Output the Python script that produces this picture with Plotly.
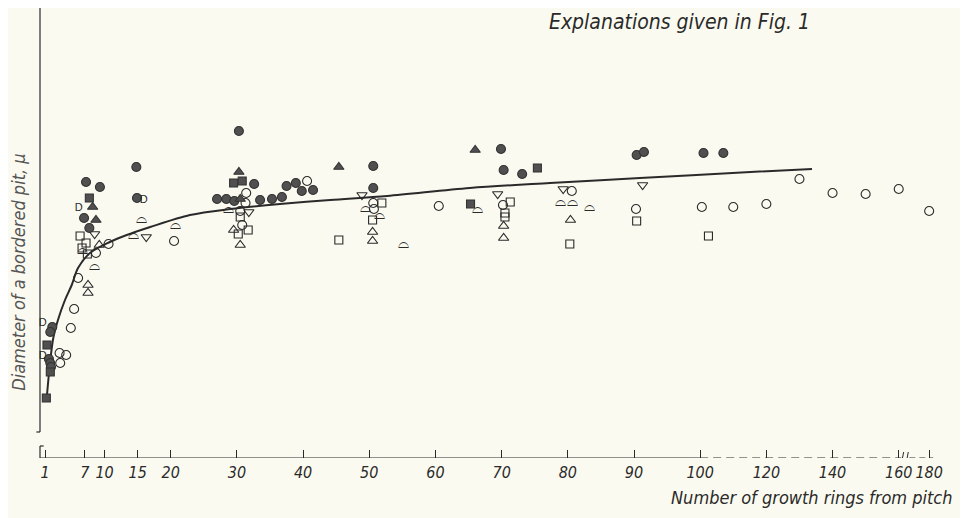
import plotly.graph_objects as go

# ---------------- data (ring number from pith, relative pit diameter) ----------------
tick_rings = [1, 7, 10, 15, 20, 30, 40, 50, 60, 70, 80, 90, 100, 120, 140, 160, 180]
tick_labels = [str(t) for t in tick_rings]

curve_ring = [1.26, 1.76, 2.25, 2.96, 4.02, 5.04, 5.99, 7.8, 10.8, 13.35, 16.9, 22.9, 29.0,
              36.5, 44.1, 52.7, 65.2, 77.3, 90.9, 115.2, 133.8]
curve_diam = [6.0, 9.5, 12.0, 13.8, 15.8, 17.3, 19.0, 20.5, 21.6, 22.3, 23.1, 24.3, 24.9,
              25.4, 25.8, 26.2, 27.0, 27.5, 28.0, 28.6, 28.9]

fc_ring = [2.1, 1.8, 1.6, 1.8, 1.9, 7.2, 9.3, 6.9, 7.7, 14.8, 14.9, 30.3, 32.6, 27.0, 28.4,
           29.6, 33.5, 35.3, 36.8, 37.5, 38.9, 39.8, 41.5, 50.6, 50.6, 69.9, 70.3, 73.1,
           90.4, 91.5, 101, 107]
fc_diam = [13.1, 12.6, 9.9, 9.5, 9.1, 27.6, 27.1, 24.0, 23.0, 29.1, 26.0, 32.7, 27.4, 25.9,
           25.9, 25.7, 25.8, 25.9, 26.1, 27.2, 27.5, 26.7, 26.8, 29.2, 27.0, 30.9, 28.8,
           28.4, 30.3, 30.6, 30.5, 30.5]

oc_ring = [4.9, 5.4, 6.0, 3.2, 4.2, 3.3, 10.6, 8.7, 20.5, 31.4, 31.3, 40.6, 30.5, 30.8,
           50.6, 50.7, 60.5, 70.2, 80.6, 90.3, 100.5, 110, 120, 130, 140, 150, 160, 180]
oc_diam = [13.0, 14.9, 18.0, 10.5, 10.3, 9.5, 21.4, 20.5, 21.7, 26.5, 25.5, 27.7, 24.7,
           23.3, 25.5, 24.9, 25.2, 25.3, 26.7, 24.9, 25.1, 25.1, 25.4, 27.9, 26.5, 26.4,
           26.9, 24.7]

os_ring = [6.3, 7.2, 6.6, 7.4, 30.5, 31.7, 30.2, 51.9, 50.5, 45.4, 71.3, 70.5, 70.5, 80.3,
           90.4, 102.5]
os_diam = [22.2, 21.5, 21.0, 20.4, 24.1, 22.8, 22.4, 25.5, 23.8, 21.8, 25.6, 24.5, 24.1,
           21.4, 23.7, 22.2]

fs_ring = [1.3, 1.8, 1.2, 7.7, 29.5, 30.8, 65.3, 75.4]
fs_diam = [11.3, 8.6, 6.0, 26.0, 27.5, 27.7, 25.4, 29.0]

ft_ring = [8.2, 8.7, 30.3, 30.5, 45.4, 66.0]
ft_diam = [25.1, 23.8, 28.6, 25.9, 29.1, 30.8]

ot_ring = [7.5, 7.5, 9.2, 29.5, 30.5, 50.5, 50.5, 70.3, 70.3, 80.4]
ot_diam = [17.3, 16.5, 21.3, 22.8, 21.3, 22.6, 21.7, 23.2, 22.0, 23.8]

it_ring = [8.5, 16.3, 31.8, 48.9, 69.4, 79.3, 91.3]
it_diam = [22.4, 22.1, 24.6, 26.3, 26.4, 26.9, 27.3]

bowl_ring = [6.6, 8.5, 15.6, 14.4, 20.7, 28.8, 49.5, 51.6, 55.1, 66.3, 78.9, 80.7, 83.3]
bowl_diam = [20.8, 19.2, 23.9, 22.3, 23.3, 24.9, 25.0, 24.3, 21.4, 24.9, 25.6, 25.6, 25.1]

d_ring = [0.65, 0.65, 6.1, 15.9]
d_diam = [13.5, 10.2, 25.0, 25.8]


# ---------------- broken ring scale: linear to 100, half scale to 160, compressed after ----
def to_u(r):
    if r <= 100:
        return r
    if r <= 160:
        return 100 + (r - 100) / 2.0
    return 130 + (r - 160) * 0.23


def U(lst):
    return [to_u(r) for r in lst]


INK = "#2a2a2a"
FILL = "#505050"
BG = "#fbfaf0"
FONT = "Liberation Sans Narrow, DejaVu Sans Condensed, Liberation Sans, Arial, sans-serif"

fig = go.Figure()

fig.add_trace(go.Scatter(x=U(curve_ring), y=curve_diam, mode="lines",
                         line=dict(color=INK, width=2, shape="spline", smoothing=0.9),
                         hoverinfo="skip"))


def add_markers(rings, diams, symbol, size, filled):
    fig.add_trace(go.Scatter(
        x=U(rings), y=diams, mode="markers", cliponaxis=False,
        marker=dict(symbol=symbol, size=size,
                    color=FILL if filled else INK,
                    line=dict(color="#333333" if filled else INK, width=1.1))))


add_markers(oc_ring, oc_diam, "circle-open", 9, False)
add_markers(os_ring, os_diam, "square-open", 8, False)
add_markers(ot_ring, ot_diam, "triangle-up-open", 9, False)
add_markers(it_ring, it_diam, "triangle-down-open", 9, False)
add_markers(fc_ring, fc_diam, "circle", 9, True)
add_markers(fs_ring, fs_diam, "square", 8, True)
add_markers(ft_ring, ft_diam, "triangle-up", 9, True)

fig.add_trace(go.Scatter(x=U(bowl_ring), y=bowl_diam, mode="text", cliponaxis=False,
                         text=["⌓"] * len(bowl_ring), textposition="middle center",
                         textfont=dict(family="DejaVu Sans", size=14, color=INK)))
fig.add_trace(go.Scatter(x=U(d_ring), y=d_diam, mode="text", cliponaxis=False,
                         text=["D"] * len(d_ring), textposition="middle center",
                         textfont=dict(family="Liberation Sans, sans-serif", size=11, color=INK)))

# ---------------- axes (drawn as lines with breaks) ----------------
YMAX = 45.0
line_style = dict(color=INK, width=1.2)
# y axis, with break near the bottom
fig.add_shape(type="line", xref="paper", yref="y", x0=0, x1=0, y0=2.6, y1=YMAX, line=line_style)
fig.add_shape(type="line", xref="paper", yref="y", x0=0, x1=-0.004, y0=2.6, y1=2.6, line=line_style)
fig.add_shape(type="line", xref="paper", yref="y", x0=0, x1=0, y0=0, y1=1.2, line=line_style)
fig.add_shape(type="line", xref="paper", yref="y", x0=0, x1=0.004, y0=1.2, y1=1.2, line=line_style)
# x axis: solid up to 100, dashed beyond
fig.add_shape(type="line", xref="x", yref="y", x0=0.244, x1=100, y0=0, y1=0, line=line_style)
fig.add_shape(type="line", xref="x", yref="y", x0=100, x1=to_u(160) + 0.4, y0=0, y1=0,
              line=dict(color=INK, width=1.2, dash="8px,5px"))
fig.add_shape(type="line", xref="x", yref="y", x0=to_u(160) + 1.6, x1=to_u(180) + 0.6, y0=0, y1=0,
              line=dict(color=INK, width=1.2, dash="6px,4px"))
# break marks
for dx in (0.6, 1.3):
    fig.add_shape(type="line", xref="x", yref="y", x0=to_u(160) + dx - 0.15, x1=to_u(160) + dx + 0.15,
                  y0=-0.4, y1=0.6, line=dict(color=INK, width=1))

fig.update_xaxes(range=[0.244, 137.9], showgrid=False, zeroline=False, showline=False,
                 tickmode="array", tickvals=U(tick_rings), ticktext=tick_labels,
                 ticks="inside", ticklen=8, tickwidth=1.1, tickcolor=INK, ticklabelstandoff=3,
                 tickfont=dict(family=FONT, size=16, color=INK, style="italic"))
fig.update_yaxes(range=[0, YMAX], showgrid=False, zeroline=False, showline=False,
                 showticklabels=False, ticks="")

fig.add_annotation(xref="paper", yref="paper", x=0.7025, y=0.969, showarrow=False,
                   xanchor="center", yanchor="middle",
                   text="Explanations given in Fig. 1",
                   font=dict(family=FONT, size=21, color=INK, style="italic"))
fig.add_annotation(xref="paper", yref="paper", x=1.004, y=-0.0867, xanchor="right",
                   yanchor="middle", showarrow=False,
                   text="Number of growth rings from pitch",
                   font=dict(family=FONT, size=18, color=INK, style="italic"))
fig.add_annotation(xref="paper", yref="paper", x=-0.0245, y=0.413, showarrow=False, textangle=-90,
                   xanchor="center", yanchor="middle",
                   text="Diameter of a bordered pit, μ",
                   font=dict(family=FONT, size=18, color="#555555", style="italic"))

fig.update_layout(width=968, height=518, showlegend=False,
                  margin=dict(l=32, r=25, t=0, b=68),
                  paper_bgcolor=BG, plot_bgcolor=BG)

fig.write_html("out.html")
